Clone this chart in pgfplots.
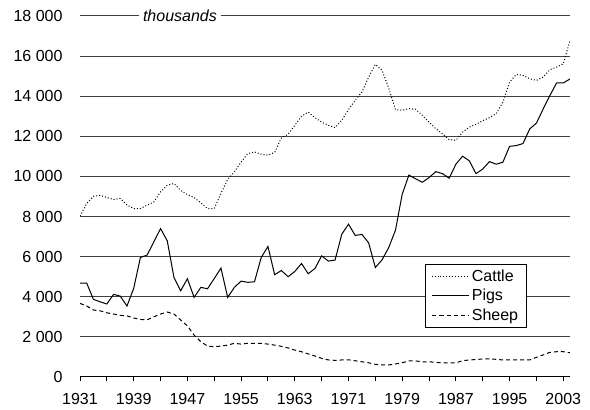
\documentclass[border=0pt]{standalone}
\usepackage{fontspec}
\setmainfont{Liberation Sans}
\usepackage{pgfplots}
\usepackage{pgfplotstable}
\pgfplotsset{compat=1.18}

\pgfplotstableread{
year cattle pigs sheep
1931 8020 4680 3670
1932 8650 4680 3540
1933 9010 3870 3340
1934 9060 3750 3300
1935 8950 3640 3200
1936 8850 4120 3140
1937 8900 4030 3070
1938 8570 3540 3050
1939 8400 4420 2940
1940 8400 5960 2870
1941 8570 6080 2850
1942 8730 6740 3000
1943 9230 7400 3140
1944 9560 6790 3240
1945 9650 4960 3140
1946 9300 4300 2840
1947 9100 4900 2550
1948 8950 3970 2090
1949 8680 4470 1760
1950 8400 4400 1540
1951 8400 4910 1510
1952 9150 5430 1540
1953 9850 3970 1590
1954 10220 4470 1680
1955 10720 4780 1640
1956 11140 4720 1680
1957 11220 4750 1680
1958 11110 5960 1680
1959 11060 6510 1640
1960 11200 5100 1590
1961 11920 5310 1530
1962 12100 5000 1450
1963 12550 5260 1340
1964 13000 5660 1260
1965 13210 5150 1150
1966 12930 5410 1050
1967 12710 6040 930
1968 12550 5780 850
1969 12430 5830 830
1970 12800 7120 850
1971 13330 7620 860
1972 13800 7060 810
1973 14210 7110 760
1974 14950 6690 710
1975 15590 5460 630
1976 15290 5840 600
1977 14400 6460 600
1978 13330 7320 650
1979 13300 9110 710
1980 13380 10070 800
1981 13350 9880 800
1982 13050 9710 760
1983 12710 9940 760
1984 12380 10240 730
1985 12130 10140 710
1986 11830 9910 710
1987 11800 10610 710
1988 12210 11010 810
1989 12460 10780 850
1990 12600 10140 870
1991 12780 10370 900
1992 12930 10740 910
1993 13130 10610 880
1994 13700 10710 850
1995 14700 11500 850
1996 15090 11540 850
1997 15040 11640 850
1998 14870 12370 850
1999 14790 12660 980
2000 14950 13360 1100
2001 15320 14030 1230
2002 15450 14660 1260
2003 15610 14660 1260
2004 16780 14860 1210
}\datatable

\begin{document}
\begin{tikzpicture}[font=\fontsize{16bp}{19bp}\selectfont]
\path[use as bounding box] (0,0) rectangle (590bp,410bp);
\begin{axis}[
  at={(80bp,33bp)}, anchor=south west,
  scale only axis, width=490bp, height=361bp,
  xmin=1931, xmax=2004, ymin=0, ymax=18000,
  clip mode=individual,
  axis x line=bottom, axis y line=left,
  y axis line style={draw=none},
  x axis line style={-, black, line width=1bp},
  scaled x ticks=false, scaled y ticks=false,
  xtick={1931,1939,1947,1955,1963,1971,1979,1987,1995,2003},
  xticklabels={1931,1939,1947,1955,1963,1971,1979,1987,1995,2003},
  minor xtick={1935,1943,1951,1959,1967,1975,1983,1991,1999},
  ytick={0,2000,4000,6000,8000,10000,12000,14000,16000,18000},
  yticklabels={0,2 000,4 000,6 000,8 000,10 000,12 000,14 000,16 000,18 000},
  xticklabel style={anchor=north, yshift=-9bp, font=\fontsize{16bp}{19bp}\selectfont},
  yticklabel style={anchor=east, xshift=-10bp, font=\fontsize{16bp}{19bp}\selectfont},
  tick align=outside,
  major tick length=4bp, minor tick length=4bp,
  xtick style={black, line width=1bp},
  minor x tick style={black, line width=1bp},
  ytick style={draw=none},
  ymajorgrids, major grid style={black!75, line width=1bp},
  legend style={at={(0.704,0.312)}, anchor=north west, draw=black, line width=0.8bp,
    fill=white, inner xsep=6bp, inner ysep=3.5bp, row sep=3.5bp,
    nodes={inner ysep=1.5bp, inner xsep=2.5bp},
    font=\fontsize{16bp}{19bp}\selectfont},
  legend cell align=left,
  legend image code/.code={\path (0bp,0bp) -- (8bp,0bp);\draw[#1] (8bp,0bp) -- (37bp,0bp);},
]
\node[fill=white, inner xsep=4bp, inner ysep=1bp, font=\fontsize{16bp}{19bp}\selectfont\itshape]
  at (rel axis cs:0.204,1) {thousands};
\addplot[black, line width=1bp, dash pattern=on 1bp off 2bp] table[x=year, y=cattle] {\datatable};
\addlegendentry{Cattle}
\addplot[black, line width=1bp] table[x=year, y=pigs] {\datatable};
\addlegendentry{Pigs}
\addplot[black, line width=1bp, dash pattern=on 4bp off 3bp] table[x=year, y=sheep] {\datatable};
\addlegendentry{Sheep}
\end{axis}
\end{tikzpicture}
\end{document}
